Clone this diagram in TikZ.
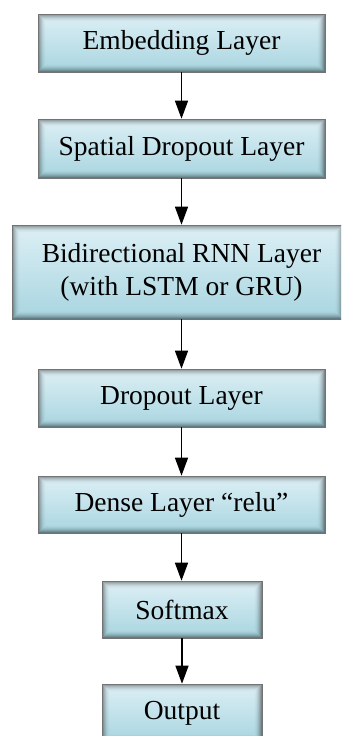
\documentclass[tikz,border=0pt]{standalone}
\usepackage{fontspec}
\setmainfont{Liberation Serif}
\newfontfamily\boxfont{Liberation Serif}
\usetikzlibrary{arrows.meta}
\definecolor{boxtop}{HTML}{DDEFF5}
\definecolor{boxbot}{HTML}{A8D5E0}
\tikzset{
  layer/.style={rectangle, draw=black!55, line width=0.6pt,
    top color=boxtop, bottom color=boxbot,
    minimum width=287pt, minimum height=58pt, inner sep=0pt,
    font=\boxfont\fontsize{27.5}{33}\selectfont, align=center,
    path picture={
      \foreach \i in {0,...,7}{
        \draw[black, opacity={0.42*(1-\i/8)*(1-\i/8)}, line width=1pt]
          ([xshift={(\i+0.5)*1pt}, yshift={-(\i+0.5)*1pt}]path picture bounding box.north west)
          rectangle
          ([xshift={-(\i+0.5)*1pt}, yshift={(\i+0.5)*1pt}]path picture bounding box.south east);
      }
    }},
  flow/.style={-{Triangle[length=18pt,width=13pt]}, line width=1.3pt, black}
}
\begin{document}
\begin{tikzpicture}[x=1pt,y=-1pt]
\clip (0,0) rectangle (341,736);
\fill[white] (0,0) rectangle (341,736);
\node[layer] (b1) at (181.5,43) {Embedding Layer};
\node[layer, minimum height=59pt] (b2) at (181.5,148.5) {Spatial Dropout Layer};
\node[layer, minimum width=331pt, minimum height=94pt] (b3) at (177.5,272)
  {\hspace*{8pt}\begin{tabular}{@{}c@{}}Bidirectional RNN Layer\\(with LSTM or GRU)\end{tabular}};
\node[layer] (b4) at (181.5,398) {Dropout Layer};
\node[layer, minimum height=57pt] (b5) at (181.5,504.5) {Dense Layer “relu”};
\node[layer, minimum width=160pt, minimum height=57pt] (b6) at (182,609.5) {Softmax};
\node[layer, minimum width=160pt, minimum height=58pt] (b7) at (182,713) {Output};
\draw[flow] (b1.south) -- (b2.north);
\draw[flow] (b2.south) -- (b2.south |- b3.north);
\draw[flow] (b4.north |- b3.south) -- (b4.north);
\draw[flow] (b4.south) -- (b5.north);
\draw[flow] (b5.south) -- (b5.south |- b6.north);
\draw[flow] (b6.south) -- (b7.north);
\end{tikzpicture}
\end{document}
